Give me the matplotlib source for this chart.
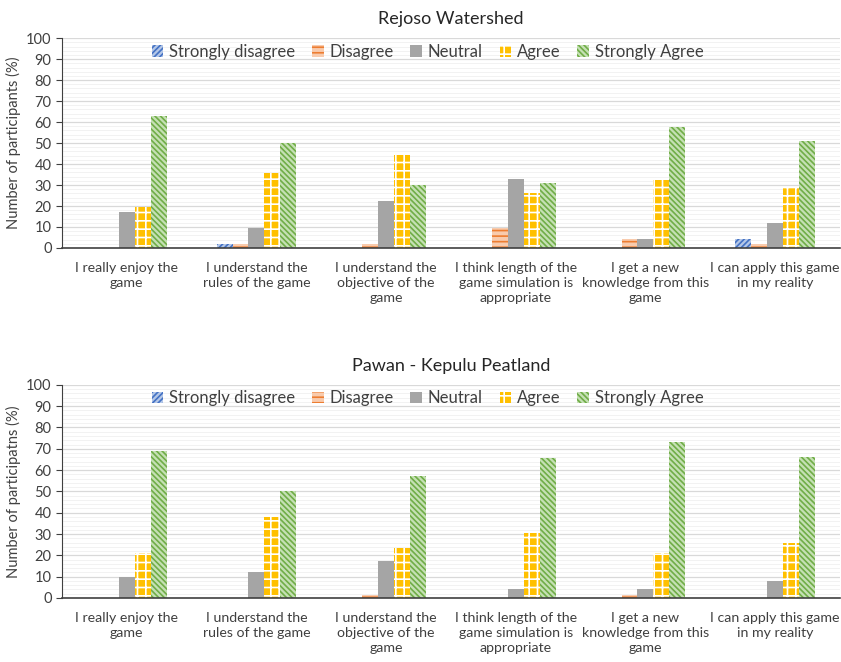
import numpy as np
import matplotlib
matplotlib.use("Agg")
import matplotlib.pyplot as plt
from matplotlib.ticker import MultipleLocator

plt.rcParams['font.family'] = ['Lato', 'DejaVu Sans']
plt.rcParams['hatch.linewidth'] = 1.2

categories = ["I really enjoy the\ngame", "I understand the\nrules of the game",
              "I understand the\nobjective of the\ngame",
              "I think length of the\ngame simulation is\nappropriate",
              "I get a new\nknowledge from this\ngame", "I can apply this game\nin my reality"]
series = ["Strongly disagree", "Disagree", "Neutral", "Agree", "Strongly Agree"]

rejoso_sd = [0, 2, 0, 0, 0, 4.5]
rejoso_d = [0, 2, 2, 9.5, 4.5, 2]
rejoso_n = [17, 9.5, 22.5, 33, 4.5, 12]
rejoso_a = [19.5, 35.5, 44.5, 26, 32.5, 29]
rejoso_sa = [63, 50, 30, 31, 57.5, 51]

pawan_sd = [0, 0, 0, 0, 0, 0]
pawan_d = [0, 0, 1.5, 0, 1.5, 0]
pawan_n = [10, 12, 17.5, 4, 4, 8]
pawan_a = [21, 38, 23.5, 30.5, 21, 26]
pawan_sa = [69, 50, 57, 65.5, 73, 66]

styles = [
    dict(facecolor='#B4C7E7', edgecolor='#4472C4', hatch='//////'),
    dict(facecolor='#F8CBAD', edgecolor='#ED7D31', hatch='---'),
    dict(facecolor='#A5A5A5', edgecolor='#A5A5A5', hatch=None),
    dict(facecolor='#FFC000', edgecolor='white', hatch='++'),
    dict(facecolor='#C5E0B4', edgecolor='#70AD47', hatch='\\\\\\\\\\\\'),
]

fig = plt.figure(figsize=(8.41, 6.62), dpi=100)
ax1 = fig.add_axes([0.0737, 0.6254, 0.925, 0.317])
ax2 = fig.add_axes([0.0737, 0.0967, 0.925, 0.322])

def draw(ax, data, title, ylabel):
    x = np.arange(len(categories))
    w = 0.123
    for i, (vals, st) in enumerate(zip(data, styles)):
        ax.bar(x + (i - 2) * w, vals, width=w, linewidth=0, label=series[i], **st)
    ax.set_xlim(-0.5, len(categories) - 0.5)
    ax.set_ylim(0, 100)
    ax.yaxis.set_major_locator(MultipleLocator(10))
    ax.yaxis.set_minor_locator(MultipleLocator(2))
    ax.grid(axis='y', which='major', color='#D9D9D9', linewidth=0.9)
    ax.grid(axis='y', which='minor', color='#F2F2F2', linewidth=0.7)
    ax.set_axisbelow(True)
    ax.set_xticks(x)
    ax.set_xticklabels(categories, fontsize=10.2, color='#404040', linespacing=1.3)
    ax.tick_params(axis='x', length=0, pad=10)
    ax.tick_params(axis='y', which='major', labelsize=10.5, colors='#404040', length=4, width=0.8)
    ax.tick_params(axis='y', which='minor', length=0)
    for s in ['top', 'right']:
        ax.spines[s].set_visible(False)
    ax.spines['left'].set_color('#404040')
    ax.spines['bottom'].set_color('#404040')
    ax.spines['bottom'].set_linewidth(1.2)
    ax.set_ylabel(ylabel, fontsize=10.5, color='#404040', labelpad=4)
    ax.set_title(title, fontsize=13, color='#262626', pad=10)
    ax.legend(ncol=5, loc='upper center', bbox_to_anchor=(0.47, 1.045), frameon=False,
              fontsize=12, handlelength=0.7, handleheight=0.7, handletextpad=0.35,
              columnspacing=1.0, labelcolor='#404040')

draw(ax1, [rejoso_sd, rejoso_d, rejoso_n, rejoso_a, rejoso_sa], "Rejoso Watershed",
     "Number of participants (%)")
draw(ax2, [pawan_sd, pawan_d, pawan_n, pawan_a, pawan_sa], "Pawan - Kepulu Peatland",
     "Number of participatns (%)")

fig.savefig("out.png", dpi=100)
